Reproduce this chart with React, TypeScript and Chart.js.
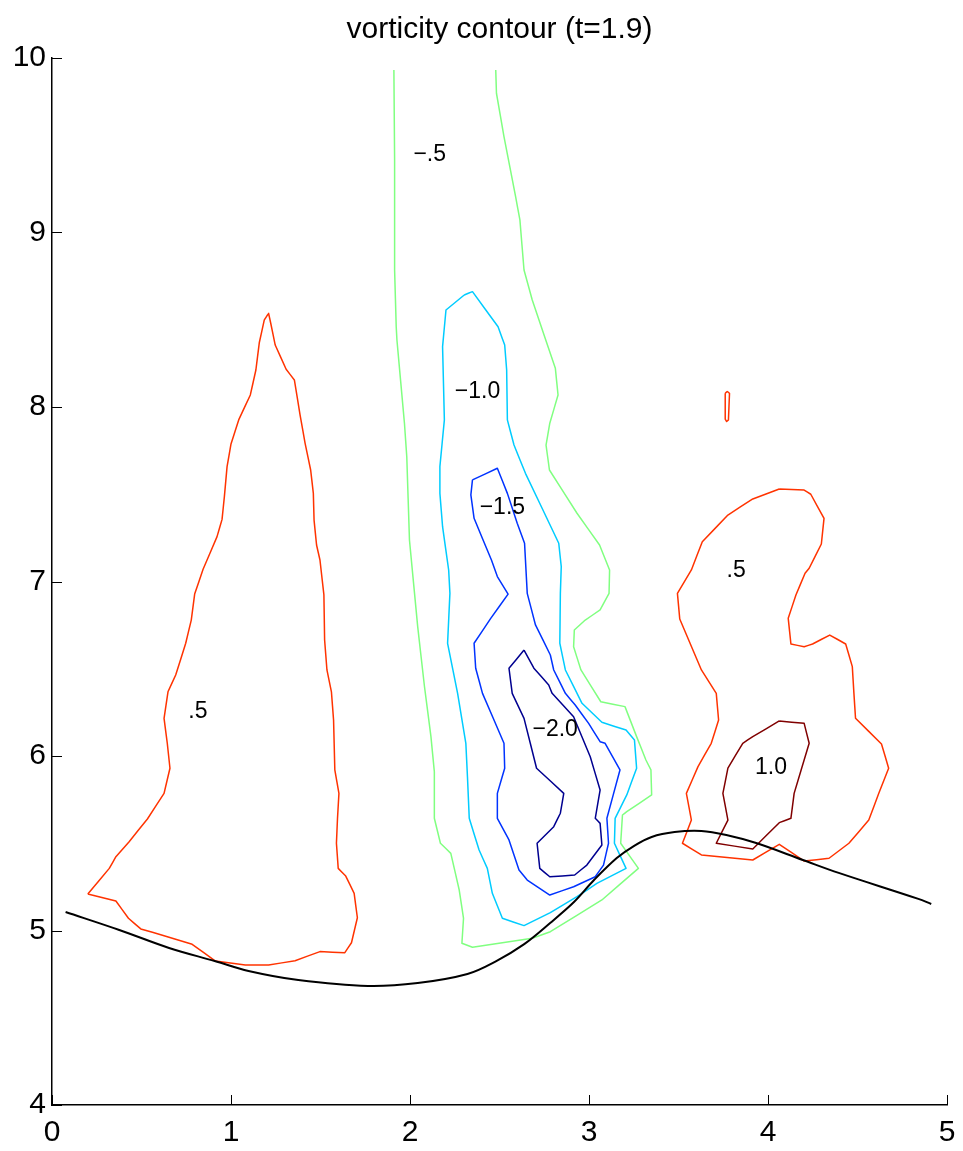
import { useEffect, useRef } from 'react';
import { Chart, registerables } from 'chart.js';

Chart.register(...registerables);

type Pt = [number, number];

const titleText = 'vorticity contour (t=1.9)';
const xTicks = [0, 1, 2, 3, 4, 5];
const yTicks = [4, 5, 6, 7, 8, 9, 10];

// Bottom wall profile
const wall: Pt[] = [
  [0.076, 5.106], [0.376, 5.003], [0.654, 4.9], [0.909, 4.825], [1.098, 4.768],
  [1.376, 4.716], [1.765, 4.682], [2.043, 4.699], [2.321, 4.751], [2.477, 4.822],
  [2.638, 4.922], [2.783, 5.043], [2.916, 5.163], [3.028, 5.289], [3.155, 5.415],
  [3.25, 5.484], [3.35, 5.536], [3.478, 5.564], [3.628, 5.57], [3.767, 5.547],
  [3.934, 5.501], [4.195, 5.404], [4.395, 5.33], [4.84, 5.181], [4.912, 5.152],
];

// Level -0.5 (open at the upper boundary)
const levelNeg05: Pt[] = [
  [1.91, 9.931], [1.914, 9.415], [1.914, 8.785], [1.923, 8.46], [1.927, 8.384],
  [1.969, 7.907], [1.982, 7.715], [1.997, 7.238], [2.043, 6.741], [2.081, 6.397],
  [2.117, 6.111], [2.136, 5.91], [2.136, 5.643], [2.17, 5.5], [2.228, 5.442],
  [2.275, 5.232], [2.299, 5.07], [2.29, 4.927], [2.349, 4.904], [2.683, 4.955],
  [2.784, 4.993], [3.072, 5.175], [3.276, 5.356], [3.177, 5.5], [3.187, 5.662],
  [3.211, 5.681], [3.35, 5.777], [3.346, 5.92], [3.318, 5.977], [3.266, 6.111],
  [3.201, 6.283], [3.066, 6.311], [2.955, 6.493], [2.914, 6.626], [2.918, 6.722],
  [2.979, 6.779], [3.062, 6.837], [3.112, 6.932], [3.115, 7.066], [3.059, 7.209],
  [2.933, 7.391], [2.779, 7.639], [2.76, 7.782], [2.781, 7.907], [2.827, 8.069],
  [2.812, 8.222], [2.683, 8.613], [2.637, 8.785], [2.614, 9.072], [2.59, 9.205],
  [2.525, 9.549], [2.483, 9.798], [2.479, 9.931],
];

// Level -1.0
const levelNeg10: Pt[] = [
  [2.303, 8.642], [2.349, 8.661], [2.492, 8.46], [2.529, 8.355], [2.54, 8.212],
  [2.544, 7.926], [2.581, 7.782], [2.645, 7.62], [2.831, 7.219], [2.845, 7.085],
  [2.84, 6.932], [2.837, 6.646], [2.868, 6.493], [2.961, 6.302], [3.072, 6.193],
  [3.207, 6.149], [3.254, 6.092], [3.266, 5.93], [3.211, 5.777], [3.146, 5.643],
  [3.142, 5.5], [3.207, 5.356], [3.044, 5.27], [2.933, 5.194], [2.784, 5.102],
  [2.637, 5.028], [2.516, 5.07], [2.46, 5.213], [2.432, 5.356], [2.386, 5.461],
  [2.331, 5.643], [2.321, 5.881], [2.312, 6.073], [2.266, 6.359], [2.21, 6.646],
  [2.223, 6.932], [2.216, 7.066], [2.182, 7.314], [2.167, 7.505], [2.167, 7.658],
  [2.192, 7.926], [2.182, 8.346], [2.201, 8.556],
];

// Level -1.5
const levelNeg15: Pt[] = [
  [2.349, 7.582], [2.488, 7.649], [2.544, 7.505], [2.599, 7.334], [2.64, 7.219],
  [2.645, 7.123], [2.655, 6.932], [2.701, 6.751], [2.784, 6.579], [2.803, 6.493],
  [2.868, 6.359], [2.923, 6.292], [2.998, 6.187], [3.062, 6.082], [3.09, 6.073],
  [3.173, 5.92], [3.1, 5.643], [3.109, 5.5], [3.081, 5.375], [3.035, 5.308],
  [2.914, 5.251], [2.781, 5.203], [2.655, 5.289], [2.609, 5.347], [2.553, 5.519],
  [2.488, 5.643], [2.488, 5.786], [2.529, 5.93], [2.525, 6.073], [2.405, 6.359],
  [2.367, 6.503], [2.358, 6.646], [2.451, 6.789], [2.548, 6.928], [2.488, 7.028],
  [2.455, 7.123], [2.358, 7.362], [2.34, 7.496],
];

// Level -2.0
const levelNeg20: Pt[] = [
  [2.637, 6.607], [2.692, 6.503], [2.775, 6.407], [2.794, 6.359], [2.914, 6.225],
  [3.007, 5.996], [3.062, 5.805], [3.035, 5.643], [3.062, 5.614], [3.072, 5.49],
  [2.988, 5.375], [2.92, 5.318], [2.781, 5.308], [2.725, 5.356], [2.71, 5.5],
  [2.803, 5.595], [2.84, 5.672], [2.859, 5.786], [2.707, 5.93], [2.637, 6.216],
  [2.571, 6.359], [2.553, 6.503],
];

// Level 0.5, left region
const levelPos05Left: Pt[] = [
  [0.2, 5.209], [0.32, 5.356], [0.357, 5.423], [0.431, 5.509], [0.533, 5.639],
  [0.626, 5.786], [0.659, 5.93], [0.644, 6.073], [0.626, 6.216], [0.648, 6.368],
  [0.691, 6.464], [0.747, 6.646], [0.778, 6.779], [0.797, 6.928], [0.844, 7.07],
  [0.922, 7.257], [0.95, 7.356], [0.963, 7.486], [0.978, 7.658], [1.0, 7.788],
  [1.043, 7.926], [1.108, 8.069], [1.139, 8.212], [1.158, 8.368], [1.186, 8.499],
  [1.21, 8.537], [1.222, 8.48], [1.247, 8.355], [1.308, 8.216], [1.354, 8.155],
  [1.386, 7.954], [1.414, 7.792], [1.445, 7.639], [1.46, 7.505], [1.464, 7.352],
  [1.478, 7.209], [1.497, 7.123], [1.519, 6.923], [1.523, 6.665], [1.536, 6.493],
  [1.561, 6.368], [1.573, 6.206], [1.58, 5.92], [1.603, 5.786], [1.595, 5.643],
  [1.589, 5.5], [1.599, 5.356], [1.641, 5.312], [1.688, 5.213], [1.706, 5.073],
  [1.673, 4.93], [1.636, 4.873], [1.497, 4.879], [1.358, 4.827], [1.21, 4.802],
  [1.08, 4.802], [0.913, 4.825], [0.783, 4.921], [0.626, 4.97], [0.496, 5.009],
  [0.427, 5.07], [0.357, 5.169],
];

// Level 0.5, right region
const levelPos05Right: Pt[] = [
  [4.063, 7.53], [4.202, 7.524], [4.239, 7.5], [4.313, 7.362], [4.298, 7.215],
  [4.23, 7.076], [4.207, 7.047], [4.156, 6.923], [4.113, 6.789], [4.128, 6.642],
  [4.202, 6.626], [4.249, 6.642], [4.345, 6.693], [4.434, 6.642], [4.471, 6.512],
  [4.48, 6.359], [4.489, 6.216], [4.634, 6.069], [4.674, 5.93], [4.619, 5.786],
  [4.563, 5.633], [4.452, 5.5], [4.341, 5.414], [4.202, 5.398], [4.063, 5.494],
  [3.915, 5.404], [3.628, 5.433], [3.522, 5.5], [3.572, 5.633], [3.544, 5.786],
  [3.609, 5.939], [3.683, 6.073], [3.724, 6.206], [3.711, 6.359], [3.628, 6.493],
  [3.507, 6.785], [3.494, 6.932], [3.572, 7.066], [3.633, 7.228], [3.776, 7.381],
  [3.915, 7.473],
];

// Level 0.5, small isolated loop
const levelPos05Small: Pt[] = [
  [3.761, 8.079], [3.772, 8.089], [3.785, 8.079], [3.779, 7.926], [3.769, 7.917],
  [3.761, 7.93],
];

// Level 1.0
const levelPos10: Pt[] = [
  [4.063, 6.201], [4.202, 6.187], [4.23, 6.073], [4.146, 5.786], [4.128, 5.643],
  [4.063, 5.618], [3.915, 5.467], [3.711, 5.5], [3.776, 5.633], [3.748, 5.786],
  [3.776, 5.93], [3.859, 6.073], [3.915, 6.111],
];

const contourLabels: { text: string; x: number; y: number }[] = [
  { text: '\u2212.5', x: 2.11, y: 9.444 },
  { text: '\u22121.0', x: 2.377, y: 8.086 },
  { text: '\u22121.5', x: 2.516, y: 7.421 },
  { text: '\u22122.0', x: 2.811, y: 6.149 },
  { text: '.5', x: 0.815, y: 6.252 },
  { text: '.5', x: 3.822, y: 7.06 },
  { text: '1.0', x: 4.017, y: 5.931 },
];

const FONT = '"Liberation Sans", Arial, Helvetica, sans-serif';

const closeLoop = (pts: Pt[]): Pt[] => [...pts, pts[0]];
const toXY = (pts: Pt[]) => pts.map(([x, y]) => ({ x, y }));

const contourSets: { pts: Pt[]; color: string; closed: boolean }[] = [
  { pts: levelNeg05, color: '#80FF80', closed: false },
  { pts: levelNeg10, color: '#00CCFF', closed: true },
  { pts: levelNeg15, color: '#0033FF', closed: true },
  { pts: levelNeg20, color: '#000090', closed: true },
  { pts: levelPos05Left, color: '#FF3300', closed: true },
  { pts: levelPos05Right, color: '#FF3300', closed: true },
  { pts: levelPos05Small, color: '#FF3300', closed: true },
  { pts: levelPos10, color: '#800000', closed: true },
];

const decorations = {
  id: 'decorations',
  afterDraw(chart: any) {
    const { ctx, chartArea } = chart;
    const xs = chart.scales.x;
    const ys = chart.scales.y;
    ctx.save();
    // inward tick marks
    ctx.strokeStyle = '#000';
    ctx.lineWidth = 1;
    for (const v of xTicks) {
      const px = Math.round(xs.getPixelForValue(v)) + 0.5;
      ctx.beginPath();
      ctx.moveTo(px, chartArea.bottom);
      ctx.lineTo(px, chartArea.bottom - 10);
      ctx.stroke();
    }
    for (const v of yTicks) {
      const py = Math.round(ys.getPixelForValue(v)) + 0.5;
      ctx.beginPath();
      ctx.moveTo(chartArea.left, py);
      ctx.lineTo(chartArea.left + 10, py);
      ctx.stroke();
    }
    // contour level labels
    ctx.fillStyle = '#000';
    ctx.font = `23px ${FONT}`;
    ctx.textAlign = 'center';
    ctx.textBaseline = 'middle';
    for (const lab of contourLabels) {
      ctx.fillText(lab.text, xs.getPixelForValue(lab.x), ys.getPixelForValue(lab.y));
    }
    // title
    ctx.font = `30px ${FONT}`;
    ctx.textBaseline = 'alphabetic';
    ctx.fillText(titleText, (chartArea.left + chartArea.right) / 2, 38);
    ctx.restore();
  },
};

export default function App() {
  const canvasRef = useRef<HTMLCanvasElement | null>(null);

  useEffect(() => {
    const canvas = canvasRef.current;
    if (!canvas) return;
    const datasets: any[] = [
      {
        label: 'wall',
        data: toXY(wall),
        borderColor: '#000',
        borderWidth: 2,
        tension: 0.35,
        order: 0,
      },
      // a tiny tension keeps every vertex (the straight fast path merges
      // points that share a pixel column, which distorts closed loops)
      ...contourSets.map((c, i) => ({
        label: `c${i}`,
        data: toXY(c.closed ? closeLoop(c.pts) : c.pts),
        borderColor: c.color,
        borderWidth: 1.5,
        tension: 0.0001,
        order: 1,
      })),
    ];
    const chart = new Chart(canvas, {
      type: 'scatter',
      data: { datasets },
      options: {
        responsive: false,
        animation: false,
        devicePixelRatio: 1,
        showLine: true,
        elements: {
          point: { radius: 0, hoverRadius: 0 },
          line: { fill: false, borderJoinStyle: 'round', capBezierPoints: false },
        },
        layout: { padding: { top: 58, right: 16, bottom: 0, left: 0 } },
        plugins: {
          legend: { display: false },
          tooltip: { enabled: false },
          title: { display: false },
        },
        scales: {
          x: {
            type: 'linear',
            min: 0,
            max: 5,
            afterFit: (s: any) => {
              s.height = 46;
              s.paddingLeft = 0;
              s.paddingRight = 0;
            },
            afterBuildTicks: (s: any) => {
              s.ticks = xTicks.map((v) => ({ value: v }));
            },
            grid: { display: false, drawTicks: false },
            border: { display: true, color: '#000', width: 1.5 },
            ticks: {
              autoSkip: false,
              maxRotation: 0,
              padding: 10,
              color: '#000',
              font: { family: FONT, size: 30 },
            },
          },
          y: {
            type: 'linear',
            min: 4,
            max: 10,
            afterFit: (s: any) => {
              s.width = 52;
              s.paddingTop = 0;
              s.paddingBottom = 0;
            },
            afterBuildTicks: (s: any) => {
              s.ticks = yTicks.map((v) => ({ value: v }));
            },
            grid: { display: false, drawTicks: false },
            border: { display: true, color: '#000', width: 1.5 },
            ticks: {
              autoSkip: false,
              padding: 6,
              color: '#000',
              font: { family: FONT, size: 30 },
            },
          },
        },
      },
      plugins: [decorations],
    });
    return () => chart.destroy();
  }, []);

  return (
    <>
      <style>{'body{margin:0}'}</style>
      <canvas
        ref={canvasRef}
        width={963}
        height={1151}
        style={{ display: 'block', width: 963, height: 1151 }}
      />
    </>
  );
}
